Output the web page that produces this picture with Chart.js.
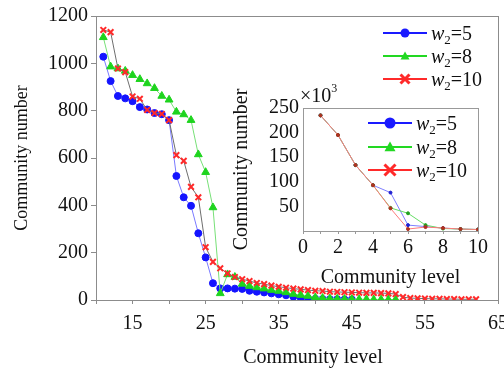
<!DOCTYPE html>
<html>
<head>
<meta charset="utf-8">
<script src="https://cdn.jsdelivr.net/npm/chart.js@4.4.0/dist/chart.umd.min.js"></script>
<style>
  html, body { margin: 0; padding: 0; background: #fff; }
  #wrap { position: relative; width: 504px; height: 370px; overflow: hidden;
          font-family: 'Liberation Serif', 'Times New Roman', serif; color: #111; }
  #main { position: absolute; left: 0; top: 0; }
  #inset { position: absolute; left: 230px; top: 85px; }
  .row { position: absolute; height: 22px; display: flex; align-items: center;
         white-space: nowrap; font-size: 20px; }
  .row svg { margin-right: 4px; }
  .sub { font-size: 13px; position: relative; top: 4px; }
  #x103 { position: absolute; left: 300px; top: 84px; font-size: 20px; }
  #x103 sup { font-size: 12px; position: relative; top: -3px; vertical-align: top; }
</style>
</head>
<body>
<div id="wrap">
  <canvas id="main" width="504" height="370"></canvas>
  <canvas id="inset" width="262" height="205"></canvas>
  <div id="x103">&times;10<sup>3</sup></div>
</div>
<script>
// --- donnees graphe principal ---
const mainLevels = [11, 12, 13, 14, 15, 16, 17, 18, 19, 20, 21, 22, 23, 24, 25, 26, 27, 28, 29, 30,
  31, 32, 33, 34, 35, 36, 37, 38, 39, 40, 41, 42, 43, 44, 45, 46, 47, 48, 49, 50,
  51, 52, 53, 54, 55, 56, 57, 58, 59, 60, 61, 62];
const w5 = [1028, 925, 862, 852, 840, 815, 805, 790, 785, 760, 524, 434, 398, 282, 180, 71, 49, 49, 48, 47,
  39, 35, 32, 28, 24, 20, 14, 10, 7, 5, 4, 3, 3, 2, 2];
const w8 = [1110, 986, 978, 968, 950, 933, 915, 895, 862, 846, 795, 784, 760, 615, 540, 391, 28, 108, 97, 68,
  59, 53, 48, 42, 38, 32, 25, 21, 17, 11, 8, 6, 5, 4, 4, 3, 3, 2, 2, 2, 2];
const w10 = [1141, 1132, 978, 963, 860, 850, 803, 790, 786, 760, 612, 588, 478, 434, 223, 161, 134, 112, 97, 88,
  80, 72, 67, 61, 56, 52, 48, 45, 42, 39, 38, 35, 34, 33, 32, 31, 30, 30, 29, 28,
  25, 12, 8, 7, 6, 5, 5, 4, 4, 3, 3, 3];
const mainXTicks = [15, 25, 35, 45, 55, 65];

// --- donnees encart (x10^3) ---
const insetLevels = [1, 2, 3, 4, 5, 6, 7, 8, 9, 10];
const in5 = [235, 195, 134, 93, 78, 12, 9, 6, 4, 3];
const in8 = [235, 195, 134, 93, 47, 36, 12, 5, 4, 3];
const in10 = [235, 195, 134, 93, 46, 4, 8, 6, 4, 3];
const insetXTicks = [0, 2, 4, 6, 8, 10];

const seriesLabels = ['5', '8', '10'];
const serif = "'Liberation Serif', 'Times New Roman', serif";

function pairs(xs, ys) {
  return ys.map((y, i) => ({ x: xs[i], y: y }));
}

// titre X decale (comme sur l'original)
function makeXTitle(text, shift, y) {
  return {
    id: 'xTitle',
    afterDraw(chart) {
      const ctx = chart.ctx;
      const area = chart.chartArea;
      ctx.save();
      ctx.font = '20px ' + serif;
      ctx.fillStyle = '#111';
      ctx.textAlign = 'center';
      ctx.textBaseline = 'middle';
      ctx.fillText(text, (area.left + area.right) / 2 + shift, y);
      ctx.restore();
    }
  };
}

// grille visible seulement sur la derniere graduation -> ferme le cadre
function edgeGrid(edgeValue, color, tickLength, drawTicks) {
  return {
    drawOnChartArea: true,
    drawTicks: drawTicks,
    tickLength: tickLength,
    tickColor: color,
    lineWidth: 1,
    color: c => (c.tick && c.tick.value === edgeValue ? color : 'rgba(0,0,0,0)')
  };
}

const tickFont = { family: serif, size: 20 };

// --- GRAPHE PRINCIPAL ---
new Chart(document.getElementById('main'), {
  type: 'line',
  data: {
    datasets: [
      { data: pairs(mainLevels, w5), borderColor: '#7a7aff', borderWidth: 1, order: 2,
        pointStyle: 'circle', pointRadius: 3.5, pointBackgroundColor: '#1414ff', pointBorderColor: '#1414ff' },
      { data: pairs(mainLevels, w8), borderColor: '#77e077', borderWidth: 1, order: 1,
        pointStyle: 'triangle', pointRadius: 4.5, pointBackgroundColor: '#1ed41e', pointBorderColor: '#1ed41e' },
      { data: pairs(mainLevels, w10), borderColor: '#6e6e6e', borderWidth: 1, order: 0,
        pointStyle: 'crossRot', pointRadius: 4, pointBorderWidth: 2, pointBorderColor: '#ff2a2a' }
    ]
  },
  options: {
    responsive: false,
    animation: false,
    layout: { padding: { top: 16, right: 6, left: 0, bottom: 0 } },
    plugins: { legend: { display: false }, tooltip: { enabled: false } },
    scales: {
      x: {
        type: 'linear', min: 10, max: 65,
        border: { color: '#8c8c8c' },
        grid: edgeGrid(65, '#8c8c8c', 4, true),
        ticks: { stepSize: 5, autoSkip: false, maxRotation: 0, padding: 8, color: '#111', font: tickFont,
                 callback: v => (mainXTicks.includes(v) ? String(v) : '') },
        afterFit: s => { s.height = 70; s.paddingLeft = 0; s.paddingRight = 0; }
      },
      y: {
        min: 0, max: 1200,
        border: { color: '#8c8c8c' },
        grid: edgeGrid(1200, '#8c8c8c', 5, true),
        ticks: { stepSize: 200, autoSkip: false, padding: 3, color: '#111', font: tickFont,
                 callback: v => String(v) },
        title: { display: true, text: 'Community number', color: '#111',
                 font: { family: serif, size: 18 }, padding: { top: 11, bottom: 0 } },
        afterFit: s => { s.width = 96; s.paddingTop = 0; s.paddingBottom = 0; }
      }
    }
  },
  plugins: [makeXTitle('Community level', 16, 358)]
});

// --- ENCART ---
new Chart(document.getElementById('inset'), {
  type: 'line',
  data: {
    datasets: [
      { data: pairs(insetLevels, in5), borderColor: '#7f7fff', borderWidth: 1, order: 2,
        pointRadius: 1.5, pointBackgroundColor: '#2020d0', pointBorderColor: '#2020d0' },
      { data: pairs(insetLevels, in8), borderColor: '#66dd66', borderWidth: 1, order: 1,
        pointRadius: 1.5, pointBackgroundColor: '#20a020', pointBorderColor: '#20a020' },
      { data: pairs(insetLevels, in10), borderColor: '#ff7a7a', borderWidth: 1, order: 0,
        pointRadius: 1.5, pointBackgroundColor: '#b03020', pointBorderColor: '#b03020' }
    ]
  },
  options: {
    responsive: false,
    animation: false,
    layout: { padding: { top: 23, right: 14, left: 0, bottom: 0 } },
    plugins: { legend: { display: false }, tooltip: { enabled: false } },
    scales: {
      x: {
        type: 'linear', min: 0, max: 10,
        border: { color: '#999' },
        grid: edgeGrid(10, '#999', 3, true),
        ticks: { stepSize: 1, autoSkip: false, maxRotation: 0, padding: 2, color: '#111', font: tickFont,
                 callback: v => (insetXTicks.includes(v) ? String(v) : '') },
        title: { display: true, text: 'Community level', color: '#111',
                 font: { family: serif, size: 20 }, padding: { top: 0, bottom: 0 } },
        afterFit: s => { s.height = 59; s.paddingLeft = 0; s.paddingRight = 0; }
      },
      y: {
        min: 0, max: 250,
        border: { color: '#999' },
        grid: edgeGrid(250, '#999', 0, false),
        ticks: { stepSize: 50, autoSkip: false, padding: 4, color: '#111', font: tickFont,
                 callback: v => (v === 0 ? '' : String(v)) },
        title: { display: true, text: 'Community number', color: '#111',
                 font: { family: serif, size: 20 }, padding: { top: 0, bottom: 0 } },
        afterFit: s => { s.width = 73; s.paddingTop = 0; s.paddingBottom = 0; }
      }
    }
  }
});

// --- LEGENDES (HTML) ---
const legendColors = ['#1a1aff', '#22d822', '#ff2a2a'];
const legendMarkers = ['circle', 'triangle', 'cross'];

function glyph(w, marker, color, size) {
  const c = w / 2, m = 9;
  let shape = '';
  if (marker === 'circle') shape = `<circle cx="${c}" cy="${m}" r="${size}" fill="${color}"/>`;
  if (marker === 'triangle') shape = `<polygon points="${c},${m - size} ${c - size},${m + size * 0.75} ${c + size},${m + size * 0.75}" fill="${color}"/>`;
  if (marker === 'cross') shape = `<path d="M${c - size},${m - size}L${c + size},${m + size}M${c + size},${m - size}L${c - size},${m + size}" stroke="${color}" stroke-width="3"/>`;
  return `<svg width="${w}" height="18"><line x1="0" y1="${m}" x2="${w}" y2="${m}" stroke="${color}" stroke-width="2"/>${shape}</svg>`;
}

function addLegend(left, centers, lineW, size) {
  const wrap = document.getElementById('wrap');
  seriesLabels.forEach((lab, i) => {
    const row = document.createElement('div');
    row.className = 'row';
    row.style.left = left + 'px';
    row.style.top = (centers[i] - 11) + 'px';
    row.innerHTML = glyph(lineW, legendMarkers[i], legendColors[i], size) +
      `<span><i>w</i><span class="sub">2</span>=${lab}</span>`;
    wrap.appendChild(row);
  });
}

addLegend(383, [33, 56, 79], 44, 4.5);
addLegend(368, [123, 147, 170], 44, 5.5);
</script>
</body>
</html>
